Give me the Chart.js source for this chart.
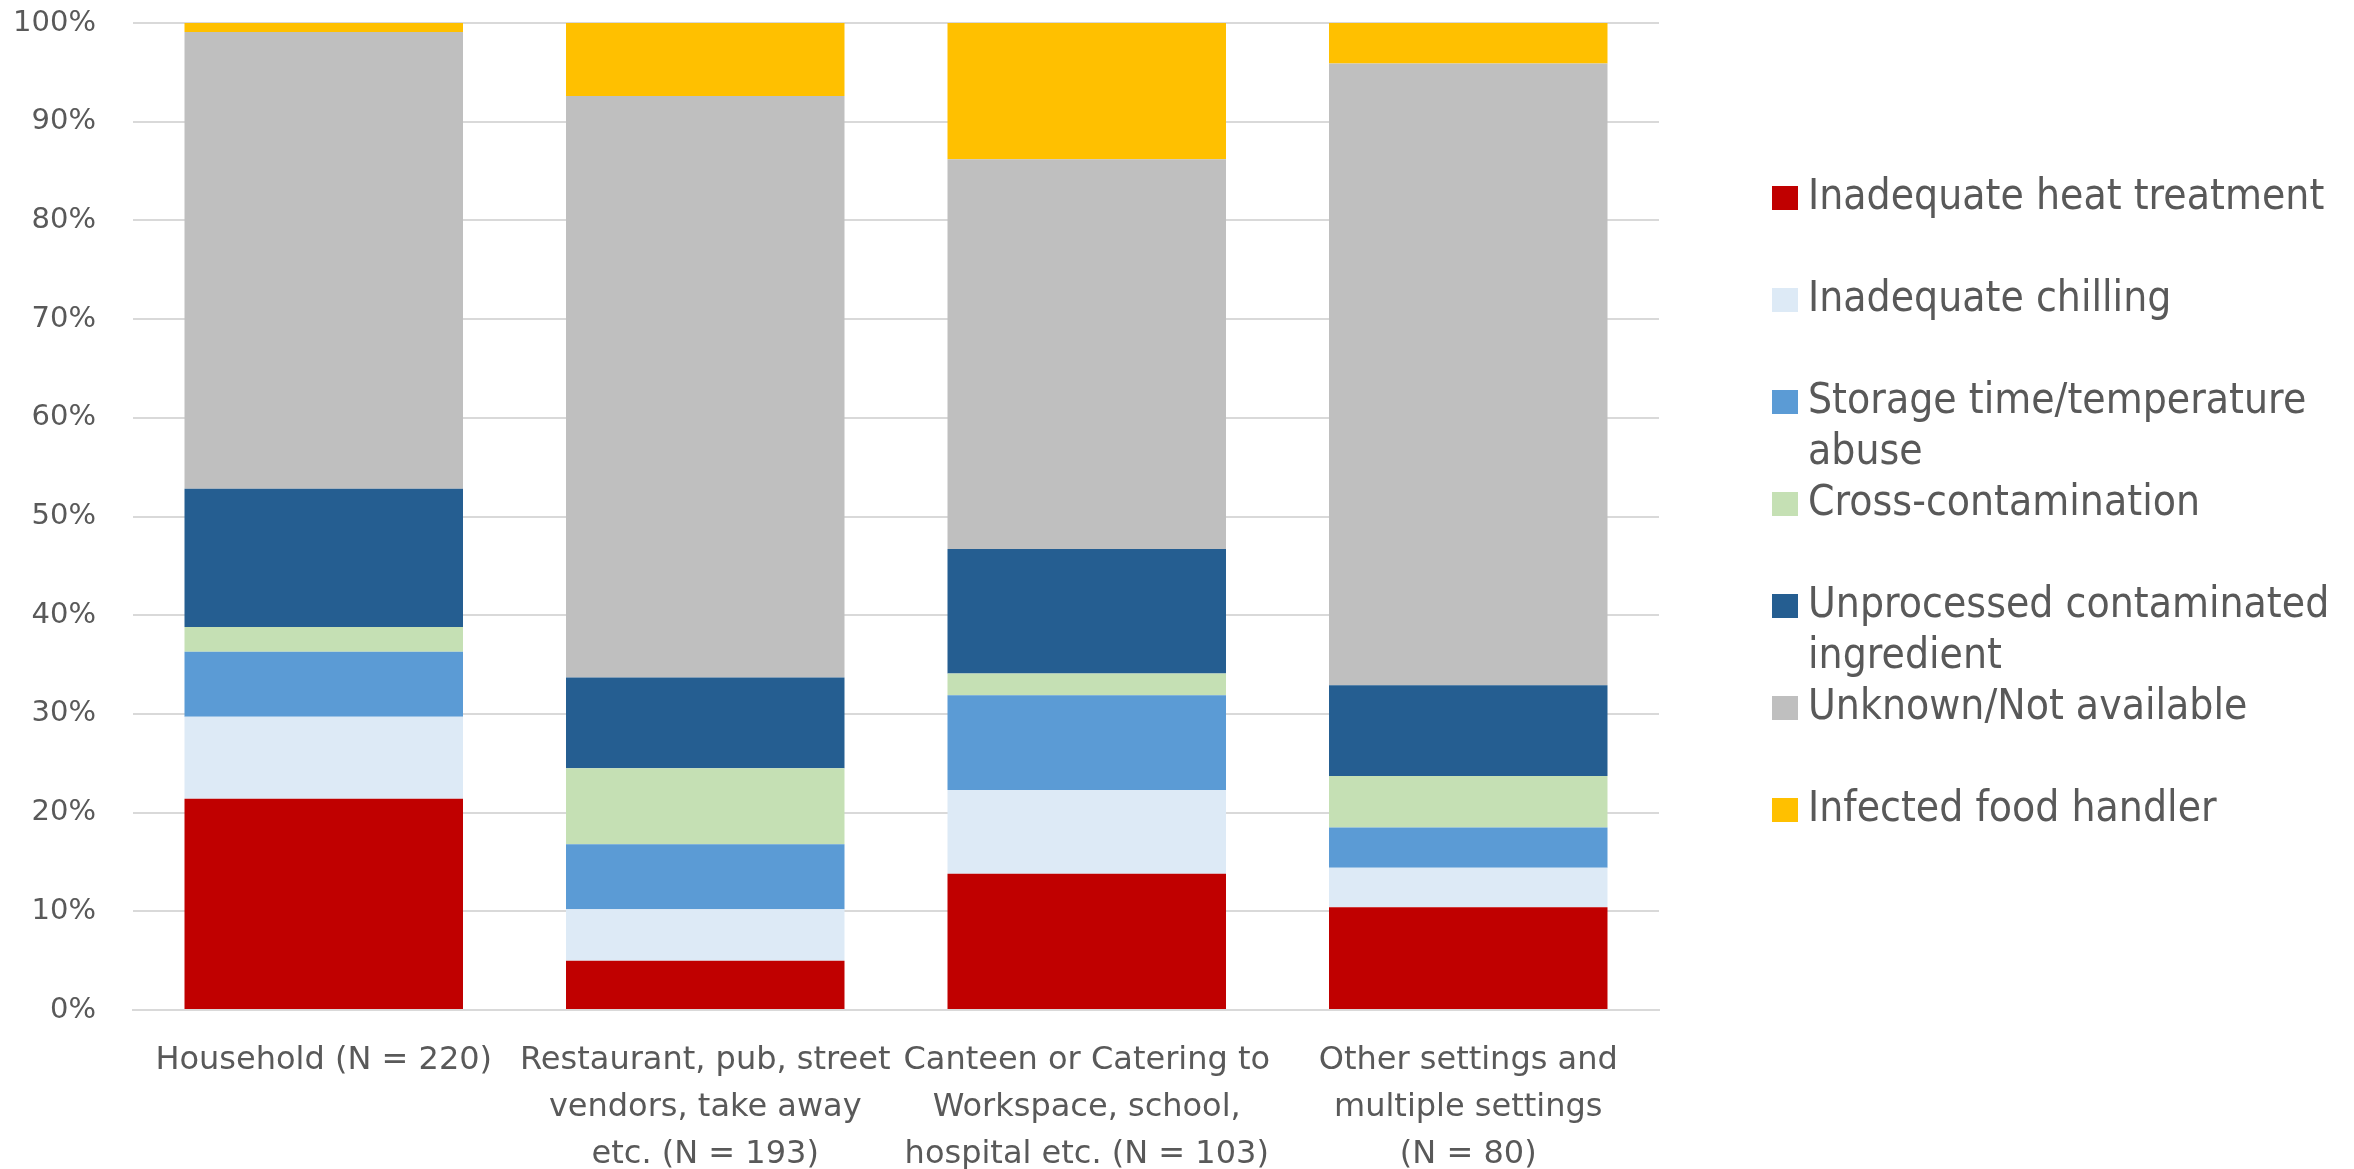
<!DOCTYPE html>
<html>
<head>
<meta charset="utf-8">
<script src="https://cdn.jsdelivr.net/npm/chart.js@4/dist/chart.umd.min.js"></script>
<style>
  html, body { margin: 0; padding: 0; background: #fff; }
  #wrap { width: 2354px; height: 1169px; position: relative; }
</style>
</head>
<body>
<div id="wrap"><canvas id="chart"></canvas></div>
<script>
// categories (x axis, multi-line labels)
const settings = [
  ["Household (N = 220)"],
  ["Restaurant, pub, street", "vendors, take away", "etc. (N = 193)"],
  ["Canteen or Catering to", "Workspace, school,", "hospital etc. (N = 103)"],
  ["Other settings and", "multiple settings", "(N = 80)"],
];

// percentage of outbreaks per contributing factor
const heatTreatment = [21.4, 5.0, 13.8, 10.4];
const chilling = [8.3, 5.2, 8.5, 4.0];
const storageAbuse = [6.6, 6.6, 9.6, 4.1];
const crossContam = [2.5, 7.7, 2.2, 5.2];
const unprocessed = [14.0, 9.2, 12.6, 9.2];
const unknown = [46.3, 58.9, 39.5, 63.0];
const foodHandler = [0.9, 7.4, 13.8, 4.1];

const yTicks = [0, 10, 20, 30, 40, 50, 60, 70, 80, 90, 100];

const series = [
  { lines: ["Inadequate heat treatment"], data: heatTreatment, color: "#C00000" },
  { lines: ["Inadequate chilling"], data: chilling, color: "#DDEAF6" },
  { lines: ["Storage time/temperature", "abuse"], data: storageAbuse, color: "#5B9BD5" },
  { lines: ["Cross-contamination"], data: crossContam, color: "#C5E0B4" },
  { lines: ["Unprocessed contaminated", "ingredient"], data: unprocessed, color: "#255E91" },
  { lines: ["Unknown/Not available"], data: unknown, color: "#BFBFBF" },
  { lines: ["Infected food handler"], data: foodHandler, color: "#FFC000" },
];

const textGrey = "#595959";

// legend drawn on the right, two-line entries share one slot like the original
const sideLegend = {
  id: "sideLegend",
  afterDraw(chart) {
    const ctx = chart.ctx;
    const area = chart.chartArea;
    const x0 = area.right + 113;
    const y0 = 198;
    ctx.save();
    ctx.font = "38px 'DejaVu Sans', Verdana, sans-serif";
    ctx.textBaseline = "middle";
    ctx.textAlign = "left";
    chart.data.datasets.forEach((ds, i) => {
      const y = y0 + i * 102;
      ctx.fillStyle = ds.backgroundColor;
      ctx.fillRect(x0, y - 12, 26, 24);
      ctx.fillStyle = textGrey;
      series[i].lines.forEach((ln, j) => {
        // the original glyphs are a little taller than wide
        ctx.save();
        ctx.translate(x0 + 36, y + j * 51);
        ctx.scale(1, 1.12);
        ctx.fillText(ln, 0, 0);
        ctx.restore();
      });
    });
    ctx.restore();
  },
};

new Chart(document.getElementById("chart"), {
  type: "bar",
  data: {
    labels: settings,
    datasets: series.map((s) => ({
      label: s.lines.join(" "),
      data: s.data,
      backgroundColor: s.color,
      borderWidth: 0,
      categoryPercentage: 1,
      barPercentage: 0.73,
    })),
  },
  options: {
    responsive: true,
    maintainAspectRatio: false,
    animation: false,
    layout: { padding: { top: 23, right: 695, left: 0, bottom: 0 } },
    plugins: {
      legend: { display: false },
      tooltip: { enabled: false },
    },
    scales: {
      x: {
        stacked: true,
        grid: { display: false, drawTicks: false },
        border: { display: true, color: "#D9D9D9", width: 2 },
        ticks: {
          color: textGrey,
          padding: 27,
          maxRotation: 0,
          autoSkip: false,
          font: { family: "'DejaVu Sans', Verdana, sans-serif", size: 32, lineHeight: 1.47 },
        },
        afterFit(scale) { scale.height = 159; },
      },
      y: {
        stacked: true,
        min: 0,
        max: 100,
        afterBuildTicks(scale) { scale.ticks = yTicks.map((v) => ({ value: v })); },
        grid: { color: "#D9D9D9", lineWidth: 2, drawTicks: false },
        border: { display: false },
        ticks: {
          color: textGrey,
          padding: 37,
          font: { family: "'DejaVu Sans', Verdana, sans-serif", size: 29 },
          callback: (v) => v + "%",
        },
        afterFit(scale) {
          scale.width = 133;
          scale.paddingTop = 0;
          scale.paddingBottom = 0;
        },
      },
    },
  },
  plugins: [sideLegend],
});
</script>
</body>
</html>
